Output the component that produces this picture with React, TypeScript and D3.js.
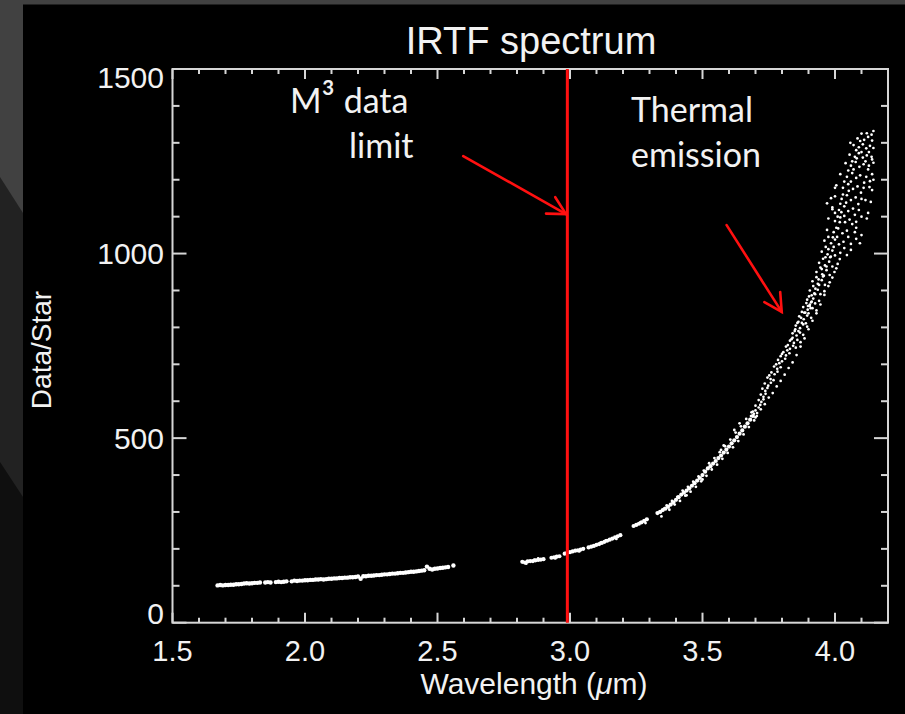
import React from 'react';
import * as d3 from 'd3';

// ---------- data ----------
const chartTitle = 'IRTF spectrum';
const xAxisLabel = 'Wavelength (';
const yAxisLabel = 'Data/Star';
const xTickValues = [1.5, 2.0, 2.5, 3.0, 3.5, 4.0];
const xTickLabels = ['1.5', '2.0', '2.5', '3.0', '3.5', '4.0'];
const yTickValues = [0, 500, 1000, 1500];
const yTickLabels = ['0', '500', '1000', '1500'];

// spectrum on a 0.01 µm grid (null = no data)
const gridStep = 0.01;
const lowStart = 1.67;
const lowBand: (number | null)[] = [
  101, 102, 101, 102, 102, 103, 103, 104, 104, 105, 106, 107, 106,
  107, 108, 108, 109, null, 109, 110, 109, null, 110,
  111, 110, 111, 112, null, 112, 114, 113, 114, 114,
  115, 115, 116, 116, 117, 117, 118, 117, 118, 119,
  119, 120, 120, 121, 121, 122, 122, 123, 123, 124,
  125, 119, 126, 126, 127, 127, 128, 129, 129, 130,
  131, 131, 132, 133, 133, 134, 135, 135, 136, 137,
  138, 138, 139, 140, 141, 142, 152, 146, 144, 146,
  147, 148, 149, 150, 151, null, 155,
];
const midStart = 2.82;
const midBand: (number | null)[] = [
  165, 163, 166, 167, 167, 169, 170, 171, 172, null,
  null, 176, 177, 179, 180, null, 187, 190, 191, 193,
  195, 196, 198, 200, null, 204, 206, 208, 211, 213,
  216, 219, 222, 225, 228, 231, 234, 237, null, null,
  null, null, 262, 265, 268, 272, 276, 280, null, null,
  null, 297, 300, 305, 309, 314, 320, 326, 333, 340,
  347, 352, 358, 364, 371, 378, 385, 392, 400, 409,
  418, 424, 431, 438, 446, 453, 461, 469, 477, 486,
  494, 503, 512, 521, 531, 540, 550, 560,
];
const midScatter: [number, number][] = [
  [2.835, 160], [2.865, 171], [2.88, 174], [2.945, 174], [3.035, 193], [3.115, 217],
  [3.135, 223], [3.175, 227], [3.265, 272], [3.285, 270], [3.345, 288], [3.355, 309],
  [3.365, 318], [3.375, 306], [3.385, 330], [3.395, 320], [3.405, 341], [3.415, 330],
  [3.425, 358], [3.435, 344], [3.445, 368], [3.455, 355], [3.465, 382], [3.475, 368],
  [3.485, 396], [3.495, 383], [3.505, 412], [3.515, 398], [3.525, 432], [3.535, 415],
  [3.545, 446], [3.555, 428], [3.565, 462], [3.575, 444], [3.585, 478], [3.595, 460],
  [3.605, 496], [3.615, 475], [3.625, 515], [3.635, 492], [3.645, 532], [3.655, 510],
  [3.665, 552], [3.675, 530], [3.685, 570], [3.695, 548], [3.62, 522], [3.58, 480],
  [3.50, 388], [3.44, 345], [3.64, 540], [3.57, 468],
];
// thermal-emission cloud (wavelength µm, Data/Star)
const thermalCloud: [number, number][] = [
  [3.683, 560], [3.694, 566], [3.70, 556], [3.69, 572], [3.70, 575], [3.706, 568],
  [3.70, 588], [3.712, 583], [3.718, 590], [3.712, 603], [3.722, 598], [3.73, 605],
  [3.72, 618], [3.73, 612], [3.738, 620], [3.726, 634], [3.737, 628], [3.745, 636],
  [3.735, 648], [3.748, 642], [3.758, 650], [3.745, 664], [3.757, 660], [3.768, 657], [3.752, 670],
  [3.76, 678], [3.772, 673], [3.783, 680], [3.77, 694], [3.782, 688], [3.795, 692], [3.778, 700],
  [3.785, 712], [3.80, 708], [3.812, 715], [3.795, 722], [3.80, 728], [3.815, 724], [3.828, 730], [3.82, 738],
  [3.815, 748], [3.83, 742], [3.842, 750], [3.852, 745],
  [3.83, 764], [3.845, 758], [3.858, 766], [3.87, 760], [3.84, 772],
  [3.84, 784], [3.855, 778], [3.868, 786], [3.88, 780], [3.85, 795],
  [3.852, 805], [3.868, 798], [3.88, 808], [3.895, 802], [3.862, 815],
  [3.865, 830], [3.882, 822], [3.895, 832], [3.91, 826], [3.875, 842],
  [3.88, 855], [3.897, 848], [3.905, 858], [3.915, 852], [3.93, 846], [3.892, 866],
  [3.895, 875], [3.91, 868], [3.918, 878], [3.925, 865], [3.94, 872], [3.902, 884],
  [3.905, 862], [3.912, 870], [3.908, 852], [3.898, 858],
  [3.905, 900], [3.922, 892], [3.935, 902], [3.945, 890], [3.96, 898], [3.918, 912],
  [3.915, 925], [3.935, 918], [3.95, 928], [3.962, 915], [3.98, 922], [3.93, 936],
  [3.93, 950], [3.952, 944], [3.968, 955], [3.98, 942], [3.998, 950], [3.945, 962],
  [3.94, 975], [3.962, 968], [3.978, 978], [3.99, 965], [4.01, 972], [3.955, 986],
  [3.95, 1005], [3.972, 998], [3.99, 1008], [4.0, 995], [4.02, 1002], [4.045, 996], [3.965, 1018],
  [3.96, 1035], [3.985, 1028], [4.0, 1038], [4.015, 1025], [4.032, 1032], [4.06, 1026], [3.975, 1045],
  [3.97, 1064], [3.995, 1058], [4.012, 1068], [4.028, 1055], [4.045, 1062], [4.075, 1058], [4.10, 1050],
  [3.975, 1095], [4.0, 1088], [4.02, 1098], [4.038, 1085], [4.055, 1092], [4.08, 1086], [4.12, 1095], [4.0, 1110],
  [3.99, 1125], [4.015, 1118], [4.035, 1128], [4.05, 1115], [4.068, 1122], [4.09, 1118], [4.125, 1110],
  [4.0, 1155], [4.025, 1148], [4.045, 1158], [4.06, 1145], [4.078, 1152], [4.10, 1148], [4.135, 1140],
  [4.005, 1185], [4.03, 1178], [4.05, 1188], [4.068, 1175], [4.085, 1182], [4.108, 1178], [4.14, 1172],
  [4.02, 1215], [4.045, 1208], [4.065, 1218], [4.08, 1205], [4.095, 1212], [4.118, 1208], [4.14, 1215],
  [4.04, 1245], [4.06, 1238], [4.078, 1248], [4.092, 1235], [4.108, 1242], [4.128, 1238], [4.145, 1246],
  [4.055, 1268], [4.075, 1262], [4.09, 1272], [4.105, 1260], [4.12, 1266], [4.138, 1262],
  [4.07, 1294], [4.09, 1288], [4.105, 1296], [4.118, 1285], [4.132, 1292], [4.145, 1286],
  [4.085, 1312], [4.11, 1308], [4.125, 1316], [4.14, 1306], [4.058, 1300],
  [4.12, 1326], [4.138, 1322], [4.145, 1332],
  [4.0, 1178], [3.97, 1136], [3.985, 1150], [3.99, 1120], [4.094, 1028], [4.08, 1040],
  [3.79, 703], [3.805, 733], [3.822, 752], [3.836, 768], [3.848, 790], [3.858, 812],
  [3.872, 826], [3.884, 840], [3.89, 811], [3.9, 838], [3.912, 887], [3.926, 905],
  [3.938, 930], [3.95, 958], [3.958, 940], [3.964, 990], [3.975, 1012], [3.984, 992],
  [3.992, 1044], [4.005, 1070], [4.018, 1085], [4.024, 1112], [4.035, 1102], [4.042, 1138],
  [4.052, 1170], [4.06, 1195], [4.07, 1228], [4.082, 1258], [4.1, 1275], [4.115, 1250],
  [4.125, 1228], [4.132, 1196], [4.11, 1192], [4.098, 1165], [4.088, 1134], [4.075, 1105],
  [4.065, 1080], [4.05, 1045], [4.035, 1015], [4.018, 985], [4.005, 960], [3.99, 935],
  [3.975, 912], [3.96, 888], [3.945, 862], [3.93, 838], [3.915, 818], [3.9, 795],
  [3.885, 770], [3.87, 748], [3.855, 725], [3.84, 705], [3.825, 690], [3.81, 672],
  [3.795, 655], [3.78, 640], [3.765, 622], [3.75, 610], [3.735, 592], [3.72, 578], [3.705, 560],
  [3.862, 790], [3.875, 812], [3.888, 840], [3.925, 890], [3.94, 915], [3.955, 938],
  [3.968, 965], [3.982, 990], [3.995, 1018], [4.008, 1045], [4.01, 1100], [4.02, 1135],
  [4.03, 1160], [4.035, 1195], [4.05, 1225], [4.065, 1250], [4.08, 1280], [4.095, 1305], [4.1, 1325],
  [4.06, 1010], [4.08, 1070], [4.1, 1100], [4.115, 1145], [4.13, 1180], [4.145, 1200],
  [4.14, 1255], [4.128, 1275],
];
const m3LimitWavelength = 2.99;
// annotation arrows in data units: [fromWl, fromVal, toWl, toVal]
const arrowM3: [number, number, number, number] = [2.597, 1264, 2.985, 1107];
const arrowThermal: [number, number, number, number] = [3.591, 1077, 3.799, 842];

// ---------- layout ----------
const W = 905;
const H = 714;
const M = { left: 172.5, right: 888, top: 69, bottom: 622.7 };
const axisColor = '#d6d6d6';
const textColor = '#f2f2f2';
const red = '#ff1010';
const sans = "'Liberation Sans', Arial, Helvetica, sans-serif";
const calib = "Lato, 'Open Sans', sans-serif";

export default function App() {
  const x = d3.scaleLinear().domain([1.5, 4.2]).range([M.left, M.right]);
  const y = d3.scaleLinear().domain([0, 1500]).range([M.bottom, M.top]);

  const xMinor = d3.range(15, 42).map((d) => d / 10).filter((d) => !xTickValues.some((v) => Math.abs(v - d) < 1e-6));
  const yMinor = d3.range(0, 1501, 100).filter((d) => !yTickValues.includes(d));

  const pts: [number, number, number][] = [];
  lowBand.forEach((v, i) => { if (v != null) pts.push([lowStart + i * gridStep, v, 2.2]); });
  midBand.forEach((v, i) => { if (v != null) pts.push([midStart + i * gridStep, v, 2.1]); });
  midScatter.forEach(([w, v]) => pts.push([w, v, 1.4]));
  thermalCloud.forEach(([w, v]) => pts.push([w, v, 1.35]));

  const arrow = (a: [number, number, number, number], key: string) => {
    const x1 = x(a[0]), y1 = y(a[1]), x2 = x(a[2]), y2 = y(a[3]);
    const ang = Math.atan2(y2 - y1, x2 - x1) + Math.PI;
    const L = 20, h = (28 * Math.PI) / 180;
    const p1 = [x2 + L * Math.cos(ang - h), y2 + L * Math.sin(ang - h)];
    const p2 = [x2 + L * Math.cos(ang + h), y2 + L * Math.sin(ang + h)];
    return (
      <g key={key} stroke={red} strokeWidth={2.6} fill="none" strokeLinecap="round">
        <line x1={x1} y1={y1} x2={x2} y2={y2} />
        <polyline points={`${p1[0]},${p1[1]} ${x2},${y2} ${p2[0]},${p2[1]}`} strokeLinejoin="miter" />
      </g>
    );
  };

  const yLabelShift = (v: number) => (v === 1500 ? 8 : v === 0 ? -9 : 0);

  return (
    <svg width={W} height={H} style={{ position: 'fixed', left: 0, top: 0 }}>
      <rect x={0} y={0} width={W} height={H} fill="#414141" />
      <polygon points={`0,177 23,213 23,${H} 0,${H}`} fill="#222222" />
      <polygon points={`0,462 23,497 23,${H} 0,${H}`} fill="#0f0f0f" />
      <rect x={23} y={4.5} width={W - 23} height={H} fill="#000" />

      {/* title */}
      <text x={531} y={54} textAnchor="middle" fontFamily={sans} fontSize={38} fill={textColor}>{chartTitle}</text>

      {/* data */}
      <g fill="#ffffff">
        {pts.map((p, i) => (
          <circle key={i} cx={x(p[0])} cy={y(p[1])} r={p[2]} />
        ))}
      </g>

      {/* frame */}
      <rect x={M.left} y={M.top} width={M.right - M.left} height={M.bottom - M.top} fill="none" stroke={axisColor} strokeWidth={2} />
      <g stroke={axisColor} strokeWidth={2}>
        {xTickValues.map((v) => (
          <g key={'xM' + v}>
            <line x1={x(v)} x2={x(v)} y1={M.bottom} y2={M.bottom - 10} />
            <line x1={x(v)} x2={x(v)} y1={M.top} y2={M.top + 10} />
          </g>
        ))}
        {xMinor.map((v) => (
          <g key={'xm' + v}>
            <line x1={x(v)} x2={x(v)} y1={M.bottom} y2={M.bottom - 5} />
            <line x1={x(v)} x2={x(v)} y1={M.top} y2={M.top + 5} />
          </g>
        ))}
        {yTickValues.map((v) => (
          <g key={'yM' + v}>
            <line x1={M.left} x2={M.left + 14} y1={y(v)} y2={y(v)} />
            <line x1={M.right} x2={M.right - 14} y1={y(v)} y2={y(v)} />
          </g>
        ))}
        {yMinor.map((v) => (
          <g key={'ym' + v}>
            <line x1={M.left} x2={M.left + 7} y1={y(v)} y2={y(v)} />
            <line x1={M.right} x2={M.right - 7} y1={y(v)} y2={y(v)} />
          </g>
        ))}
      </g>

      {/* tick labels */}
      <g fontFamily={sans} fill={textColor}>
        {xTickValues.map((v, i) => (
          <text key={'xl' + v} x={x(v)} y={660.5} fontSize={29} textAnchor="middle">{xTickLabels[i]}</text>
        ))}
        {yTickValues.map((v, i) => (
          <text key={'yl' + v} x={164} y={y(v) + 10.5 + yLabelShift(v)} fontSize={30} textAnchor="end">{yTickLabels[i]}</text>
        ))}
      </g>

      {/* axis labels */}
      <text x={534} y={694} textAnchor="middle" fontFamily={sans} fontSize={30} fill={textColor}>
        {xAxisLabel}<tspan fontStyle="italic">μ</tspan>m)
      </text>
      <text transform="translate(51,350) rotate(-90)" textAnchor="middle" fontFamily={sans} fontSize={28} fill={textColor}>{yAxisLabel}</text>

      {/* M3 limit */}
      <line x1={x(m3LimitWavelength)} x2={x(m3LimitWavelength)} y1={M.top} y2={M.bottom} stroke={red} strokeWidth={3} />
      {arrow(arrowM3, 'a1')}
      {arrow(arrowThermal, 'a2')}

      {/* annotations */}
      <g fontFamily={calib} fontSize={34} fill={textColor}>
        <text x={290} y={112.5}>M<tspan fontSize={40}>³</tspan> data</text>
        <text x={349} y={158}>limit</text>
        <text x={631} y={122}>Thermal</text>
        <text x={631} y={167}>emission</text>
      </g>
    </svg>
  );
}
